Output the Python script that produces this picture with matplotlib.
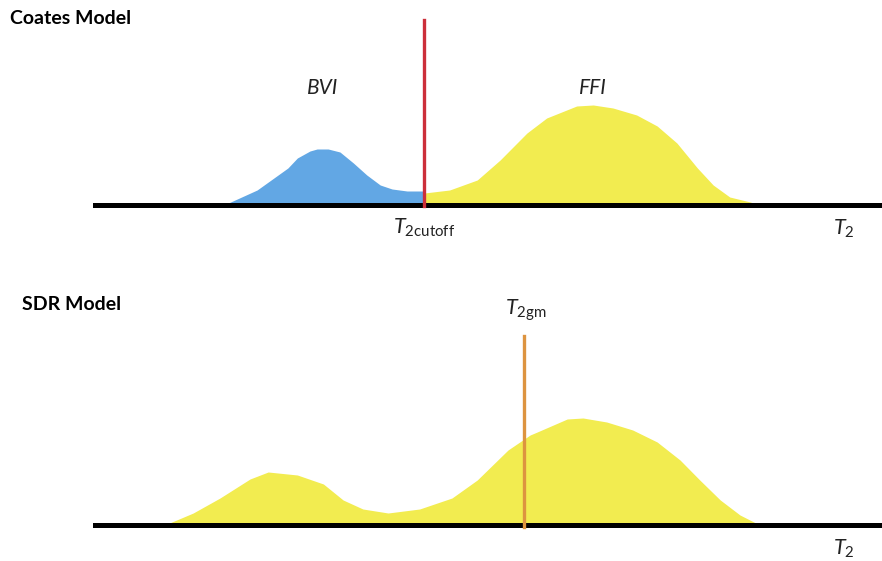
import matplotlib.pyplot as plt

# T2 distributions: position along the (log) T2 axis vs. signal amplitude

# --- Coates model ---
bvi_t2  = [16.6, 20.8, 24.7, 25.9, 27.5, 28.4, 29.8, 31.3, 33.0, 34.7, 36.4, 37.9, 39.8, 42.0]
bvi_amp = [0, 15, 37, 47, 54, 56, 56, 53, 42, 30, 20, 16, 14, 14]

ffi_t2  = [42.0, 45.2, 48.7, 51.6, 55.0, 57.5, 61.3, 63.4, 65.9, 68.9, 71.5, 74.0, 76.6, 78.6, 80.7, 83.3, 84.5]
ffi_amp = [12, 15, 25, 45, 72, 87, 99, 100, 97, 90, 79, 62, 37, 20, 8, 3, 0]

t2_cutoff = 42.0

# --- SDR model ---
sdr_t2  = [9.1, 12.7, 16.1, 19.9, 22.2, 25.9, 29.2, 31.7, 34.2, 37.4, 41.4, 45.5, 48.7,
           52.6, 55.4, 56.3, 60.1, 62.1, 65.1, 68.4, 71.5, 74.4, 76.9, 79.5, 82.0, 84.5]
sdr_amp = [0, 12, 27, 46, 53, 50, 41, 25, 16, 12, 16, 27, 45,
           75, 90, 93, 106, 107, 103, 95, 83, 65, 45, 25, 10, 0]

t2_gm = 54.6

BLUE   = "#62A7E4"
YELLOW = "#F2EC50"
RED    = "#CC2F3A"
ORANGE = "#DD9440"
INK    = "#222222"

plt.rcParams["font.family"] = ["Lato", "DejaVu Sans"]
plt.rcParams["mathtext.fontset"] = "custom"
plt.rcParams["mathtext.rm"] = "Lato"
plt.rcParams["mathtext.it"] = "Lato:italic"

W, H = 882, 561
fig = plt.figure(figsize=(W / 100, H / 100), dpi=100)

# axes placed in pixel terms: x runs from px 93 to the right edge
x0 = 93 / W
ax1 = fig.add_axes([x0, 1 - 250 / H, 1 - x0, 250 / H])
ax2 = fig.add_axes([x0, 0, 1 - x0, 281 / H])

for ax in (ax1, ax2):
    ax.set_xlim(0, 100)
    ax.axis("off")
    ax.axhline(0, color="black", lw=3.6, zorder=3)

ax1.set_ylim(-45, 205)
ax2.set_ylim(-36, 245)

# Coates: BVI / FFI split at T2 cutoff
ax1.fill_between(bvi_t2, bvi_amp, 0, color=BLUE, lw=0, zorder=1)
ax1.fill_between(ffi_t2, ffi_amp, 0, color=YELLOW, lw=0, zorder=1)
ax1.plot([t2_cutoff, t2_cutoff], [-1.5, 185], color=RED, lw=2.4, zorder=4)

ax1.text(29.1, 117, "BVI", style="italic", fontsize=15, color=INK,
         ha="center", va="center")
ax1.text(63.3, 117, "FFI", style="italic", fontsize=15, color=INK,
         ha="center", va="center")
ax1.text(t2_cutoff, -23, r"$T_{2\mathrm{cutoff}}$", fontsize=15.5, color=INK,
         ha="center", va="center")
ax1.text(95.1, -24, r"$T_{2}$", fontsize=15.5, color=INK,
         ha="center", va="center")

# SDR: whole distribution with geometric-mean T2
ax2.fill_between(sdr_t2, sdr_amp, 0, color=YELLOW, lw=0, zorder=1)
ax2.plot([t2_gm, t2_gm], [-2, 189], color=ORANGE, lw=2.4, zorder=4)

ax2.text(t2_gm + 0.2, 215, r"$T_{2\mathrm{gm}}$", fontsize=15.5, color=INK,
         ha="center", va="center")
ax2.text(95.1, -24, r"$T_{2}$", fontsize=15.5, color=INK,
         ha="center", va="center")

fig.text(10 / W, 1 - 18 / H, "Coates Model", fontsize=14, fontweight="bold",
         ha="left", va="center")
fig.text(22 / W, 1 - 305 / H, "SDR Model", fontsize=14, fontweight="bold",
         ha="left", va="center")

fig.savefig("out.png", dpi=100)
